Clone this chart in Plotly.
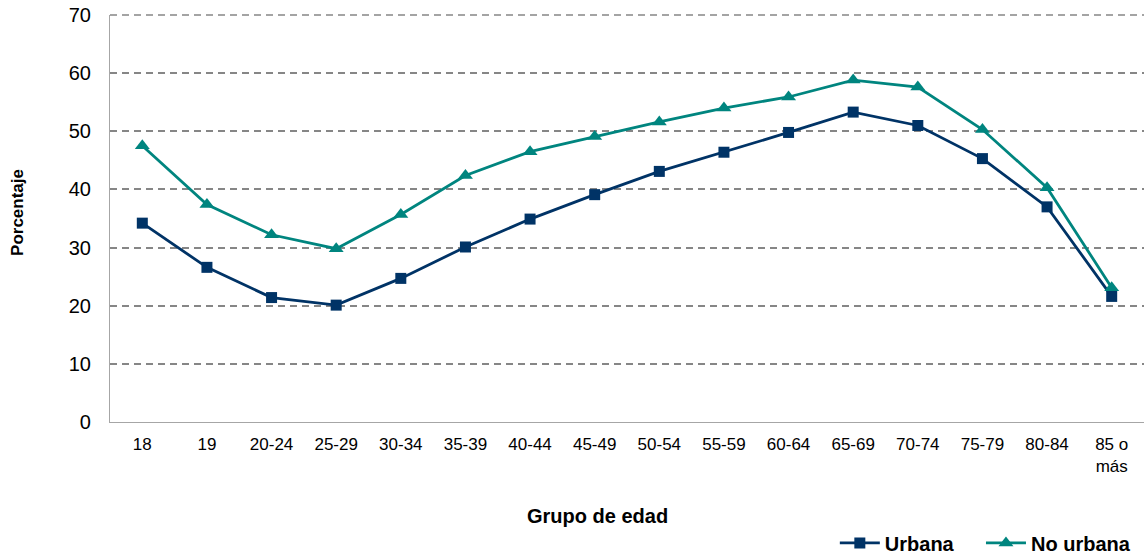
import plotly.graph_objects as go

categories = ["18", "19", "20-24", "25-29", "30-34", "35-39", "40-44", "45-49",
              "50-54", "55-59", "60-64", "65-69", "70-74", "75-79", "80-84", "85 o<br>más"]
urbana = [34.2, 26.6, 21.4, 20.1, 24.7, 30.1, 34.9, 39.1, 43.1, 46.4, 49.8, 53.3, 51.0, 45.3, 37.0, 21.6]
no_urbana = [47.5, 37.4, 32.2, 29.8, 35.7, 42.4, 46.5, 49.1, 51.6, 54.0, 55.9, 58.8, 57.6, 50.3, 40.3, 23.1]
y_ticks = [0, 10, 20, 30, 40, 50, 60, 70]

FONT = "Liberation Sans, Arial, sans-serif"
C_URB = "#003366"
C_NOU = "#00857F"
GRID = "#868686"

fig = go.Figure()
fig.add_trace(go.Scatter(
    x=categories, y=urbana, name="<b>Urbana</b>&nbsp;&nbsp;&nbsp;&nbsp;", mode="lines+markers",
    line=dict(color=C_URB, width=2.8),
    marker=dict(symbol="square", size=11, color=C_URB),
))
fig.add_trace(go.Scatter(
    x=categories, y=no_urbana, name="<b>No urbana</b>", mode="lines+markers",
    line=dict(color=C_NOU, width=2.8),
    marker=dict(symbol="triangle-up", size=13, color=C_NOU),
))

# top gridline (at the upper end of the axis range) drawn along the plot's top edge
fig.add_shape(type="line", xref="paper", yref="paper", x0=0, x1=1, y0=1, y1=1,
              line=dict(color=GRID, width=1.5, dash="7px,5px"), layer="below")

fig.update_layout(
    template="none",
    width=1145, height=558,
    margin=dict(l=110, r=1, t=15, b=136, autoexpand=False),
    paper_bgcolor="white", plot_bgcolor="white",
    font=dict(family=FONT, color="#000000"),
    showlegend=True,
    legend=dict(orientation="h", x=0.701, xanchor="left", y=-0.297, yanchor="middle",
                font=dict(family=FONT, size=20, color="#000000"),
                bgcolor="rgba(0,0,0,0)", borderwidth=0,
                itemwidth=40, tracegroupgap=0),
    xaxis=dict(
        type="category", range=[-0.5, 15.5], automargin=False,
        showline=True, linecolor="#a6a6a6", linewidth=1.2,
        showgrid=False, zeroline=False, ticks="",
        tickfont=dict(family=FONT, size=17, color="#000000"),
        ticklabelstandoff=6,
    ),
    yaxis=dict(
        range=[0, 70], tickvals=y_ticks, automargin=False,
        showline=True, linecolor="#a6a6a6", linewidth=1.2,
        showgrid=True, gridcolor=GRID, gridwidth=1.5, griddash="7px,5px",
        zeroline=False, ticks="", ticklabeloverflow="allow",
        tickfont=dict(family=FONT, size=20, color="#000000"),
        ticklabelstandoff=14,
    ),
    annotations=[
        dict(text="<b>Grupo de edad</b>", xref="paper", yref="paper",
             x=0.471, y=-0.231, xanchor="center", yanchor="middle", showarrow=False,
             font=dict(family=FONT, size=20, color="#000000")),
        dict(text="<b>Porcentaje</b>", xref="paper", yref="paper",
             x=-0.089, y=0.516, xanchor="center", yanchor="middle", showarrow=False,
             textangle=-90, font=dict(family=FONT, size=17, color="#000000")),
    ],
)

# remove the browser's default 8px body margin so the figure fills the window
fig.write_html("out.html", config={"displayModeBar": False},
               post_script="document.body.style.margin='0px';")
